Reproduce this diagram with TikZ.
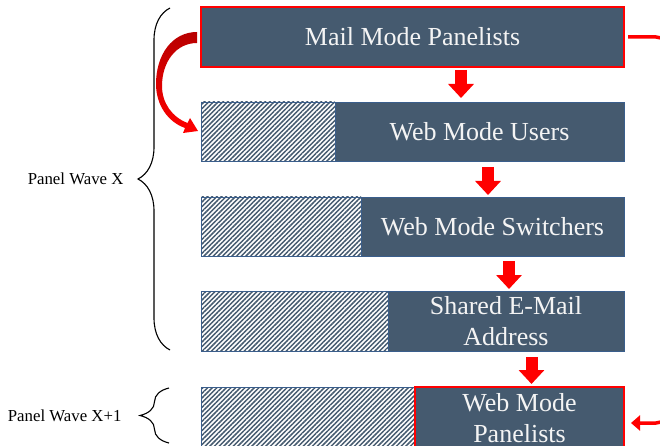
\documentclass[tikz,border=0pt]{standalone}
\usepackage{fontspec}
\setmainfont{Liberation Serif}
\usepackage{tikz}
\usetikzlibrary{calc}
\usetikzlibrary{positioning}
\usetikzlibrary{arrows.meta}
\usetikzlibrary{patterns.meta}
\usetikzlibrary{decorations.pathreplacing}
\definecolor{slate}{HTML}{455A6F}
\definecolor{edgeblue}{HTML}{3A5E8C}
\definecolor{offwhite}{HTML}{F4F4F4}
\tikzset{
  panel/.style={draw=edgeblue, line width=0.8pt, fill=slate, text=offwhite, inner sep=0pt, outer sep=0pt,
    anchor=north west, align=center, font=\fontsize{26}{31}\selectfont},
  hatched/.style={draw=edgeblue, line width=0.8pt, pattern={Lines[angle=45,distance=3.3pt,line width=1.5pt]},
    pattern color=slate, inner sep=0pt, outer sep=0pt, anchor=north west},
  picked/.style={draw=red, line width=2.5pt},
  flow/.style={red, line width=12pt, -{Triangle[width=25pt,length=14pt]}},
  loopback/.style={red, line width=3.5pt, rounded corners=12pt, -{Triangle[width=15pt,length=9pt]}},
  wavebrace/.style={decorate, decoration={brace, amplitude=#1}, line width=1.1pt},
  wavelabel/.style={font=\fontsize{16.8}{20}\selectfont, inner sep=0pt}
}

\begin{document}
\begin{tikzpicture}[x=1pt, y=-1pt]
        \path[use as bounding box, fill=white] (0,0) rectangle (660,446);
        \clip (0,0) rectangle (660,446);
        % row 1
        \node[panel, picked, minimum width=423pt, minimum height=60pt] (mail) at (201,7) {Mail Mode Panelists};
        % row 2
        \node[hatched, minimum width=134pt, minimum height=59pt] (h2) at (201,102) {};
        \node[panel, minimum width=289pt, minimum height=59pt] (users) at (h2.north east) {Web Mode Users};
        % row 3
        \node[hatched, minimum width=160pt, minimum height=59pt] (h3) at (201,197) {};
        \node[panel, minimum width=263pt, minimum height=59pt] (switchers) at (h3.north east) {Web Mode Switchers};
        % row 4
        \node[hatched, minimum width=187pt, minimum height=60pt] (h4) at (201,291) {};
        \node[panel, minimum width=236pt, minimum height=60pt] (shared) at (h4.north east) {Shared E-Mail\\Address};
        % row 5
        \node[hatched, minimum width=214pt, minimum height=62pt] (h5) at (201,387) {};
        \node[panel, picked, minimum width=209pt, minimum height=62pt] (panelists) at (h5.north east) {Web Mode\\Panelists};
        % arrows down
        \draw[flow] ($(mail.south)+(48.5,3)$) -- ($(users.north)+(-18.5,-4)$);
        \draw[flow] ($(users.south)+(8.5,6)$) -- ($(switchers.north)+(-4.5,-2)$);
        \draw[flow] ($(switchers.south)+(16.5,5)$) -- ($(shared.north)+(3,-2)$);
        \draw[flow] ($(shared.south)+(25.5,6)$) -- ($(panelists.north)+(12,-3)$);
        % curved arrow on the left
        \begin{scope}[shift={(mail.west)}]
          \shade[top color=red!72!black, bottom color=red]
            (-4,-5) .. controls (-29,-5) and (-45,18) .. (-45,47)
            .. controls (-45,68) and (-33,85) .. (-16,91)
            -- (-18,96) -- (-3,94) -- (-11,81) -- (-13.5,86)
            .. controls (-29,80) and (-39,66) .. (-39,49)
            .. controls (-39,25) and (-25,6) .. (-4,6) -- cycle;
        \end{scope}
        % loop back on the right
        \draw[loopback] ($(mail.east)+(4,0)$) -| ($(panelists.east)+(44,5)$) -- ($(panelists.east)+(7,5)$);
        % braces
        \draw[wavebrace=32pt] (170,350) -- node[wavelabel, left=46pt] (wavex) {Panel Wave X} (170,8);
        \draw[wavebrace=29pt] (169,443) -- node[wavelabel, left=47pt] (wavexa) {Panel Wave X+1} (169,388);
\end{tikzpicture}
\end{document}
